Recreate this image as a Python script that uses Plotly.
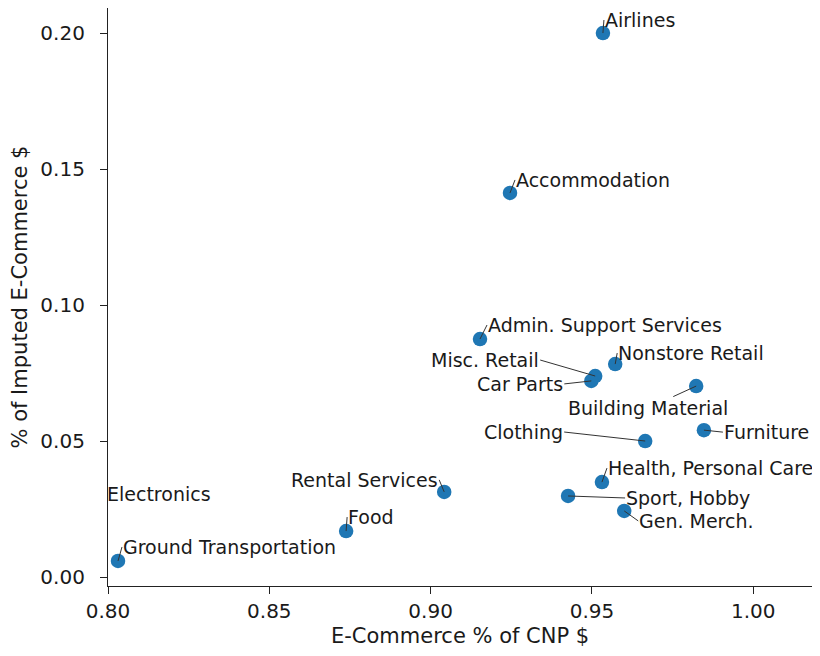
import plotly.graph_objects as go

# ---- data ----
categories = ["Airlines", "Accommodation", "Admin. Support Services", "Nonstore Retail",
              "Misc. Retail", "Car Parts", "Building Material", "Furniture", "Clothing",
              "Health, Personal Care", "Sport, Hobby", "Gen. Merch.", "Rental Services",
              "Food", "Ground Transportation", "Electronics"]
ecommerce_share_cnp = [0.9534, 0.9246, 0.9153, 0.9572, 0.9510, 0.9498, 0.9823, 0.9847, 0.9665,
                       0.9531, 0.9426, 0.9600, 0.9042, 0.8738, 0.8031, 0.7800]
imputed_share = [0.2000, 0.1412, 0.0875, 0.0783, 0.0739, 0.0721, 0.0702, 0.0540, 0.0500,
                 0.0349, 0.0298, 0.0243, 0.0313, 0.0169, 0.0059, 0.0305]

x_ticks = [0.80, 0.85, 0.90, 0.95, 1.00]
y_ticks = [0.00, 0.05, 0.10, 0.15, 0.20]
x_title = "E-Commerce % of CNP $"
y_title = "% of Imputed E-Commerce $"

# label placement (pixel offsets from the point, anchors) -- styling only
label_pos = {
    "Airlines": (1, -13, "left"),
    "Accommodation": (5, -13, "left"),
    "Admin. Support Services": (7, -14, "left"),
    "Nonstore Retail": (2, -11, "left"),
    "Misc. Retail": (-55, -16, "right"),
    "Car Parts": (-27, 3, "right"),
    "Building Material": (-48, 22, "center"),
    "Furniture": (19, 2, "left"),
    "Clothing": (-81, -9, "right"),
    "Health, Personal Care": (5, -14, "left"),
    "Sport, Hobby": (57, 2, "left"),
    "Gen. Merch.": (14, 10, "left"),
    "Rental Services": (-5, -12, "right"),
    "Food": (1, -14, "left"),
    "Ground Transportation": (4, -14, "left"),
}

FONT = "DejaVu Sans"
TXT = "#1a1a1a"
ANN_SIZE = 19
TICK_SIZE = 20
TITLE_SIZE = 21

fig = go.Figure()
fig.add_trace(go.Scatter(
    x=ecommerce_share_cnp, y=imputed_share, mode="markers",
    marker=dict(color="#1f77b4", size=14.5, line=dict(width=0)),
    text=categories, hoverinfo="text", showlegend=False, cliponaxis=True))

annotations = []
for name, xv, yv in zip(categories, ecommerce_share_cnp, imputed_share):
    if name in label_pos:
        dx, dy, anc = label_pos[name]
        annotations.append(dict(
            x=xv, y=yv, xref="x", yref="y", text=name, showarrow=True,
            ax=dx, ay=dy, axref="pixel", ayref="pixel",
            xanchor=anc, yanchor="middle",
            arrowhead=0, arrowwidth=1, arrowcolor="#333333", standoff=0,
            borderpad=0, font=dict(family=FONT, size=ANN_SIZE, color=TXT)))
    else:
        # point lies left of the visible range; its label sits at the left edge
        annotations.append(dict(
            x=0, y=yv, xref="paper", yref="y", text=name, showarrow=False,
            xanchor="left", yanchor="middle", borderpad=0, xshift=-2,
            font=dict(family=FONT, size=ANN_SIZE, color=TXT)))

# x-axis title placed below the tick labels
annotations.append(dict(
    x=0.5, y=0, xref="paper", yref="paper", text=x_title, showarrow=False,
    xanchor="center", yanchor="middle", yshift=-50, borderpad=0,
    font=dict(family=FONT, size=TITLE_SIZE, color=TXT)))

fig.update_layout(
    width=804, height=640,
    margin=dict(l=100, r=0, t=0, b=62, autoexpand=False),
    paper_bgcolor="white", plot_bgcolor="white",
    font=dict(family=FONT, color=TXT),
    annotations=annotations,
    xaxis=dict(range=[0.80, 1.0182], tickvals=x_ticks, tickformat=".2f",
               automargin=False,
               showgrid=False, zeroline=False, showline=True, linecolor="#222",
               linewidth=1.2, ticks="outside", ticklen=7, tickcolor="#222",
               ticklabelstandoff=0,
               tickfont=dict(family=FONT, size=TICK_SIZE, color=TXT)),
    yaxis=dict(range=[-0.0033, 0.2092], tickvals=y_ticks, tickformat=".2f",
               automargin=False,
               showgrid=False, zeroline=False, showline=True, linecolor="#222",
               linewidth=1.2, ticks="outside", ticklen=7, tickcolor="#222",
               ticklabelstandoff=11,
               tickfont=dict(family=FONT, size=TICK_SIZE, color=TXT),
               title=dict(text=y_title, standoff=8,
                          font=dict(family=FONT, size=TITLE_SIZE, color=TXT))),
)

fig.write_html("out.html")
